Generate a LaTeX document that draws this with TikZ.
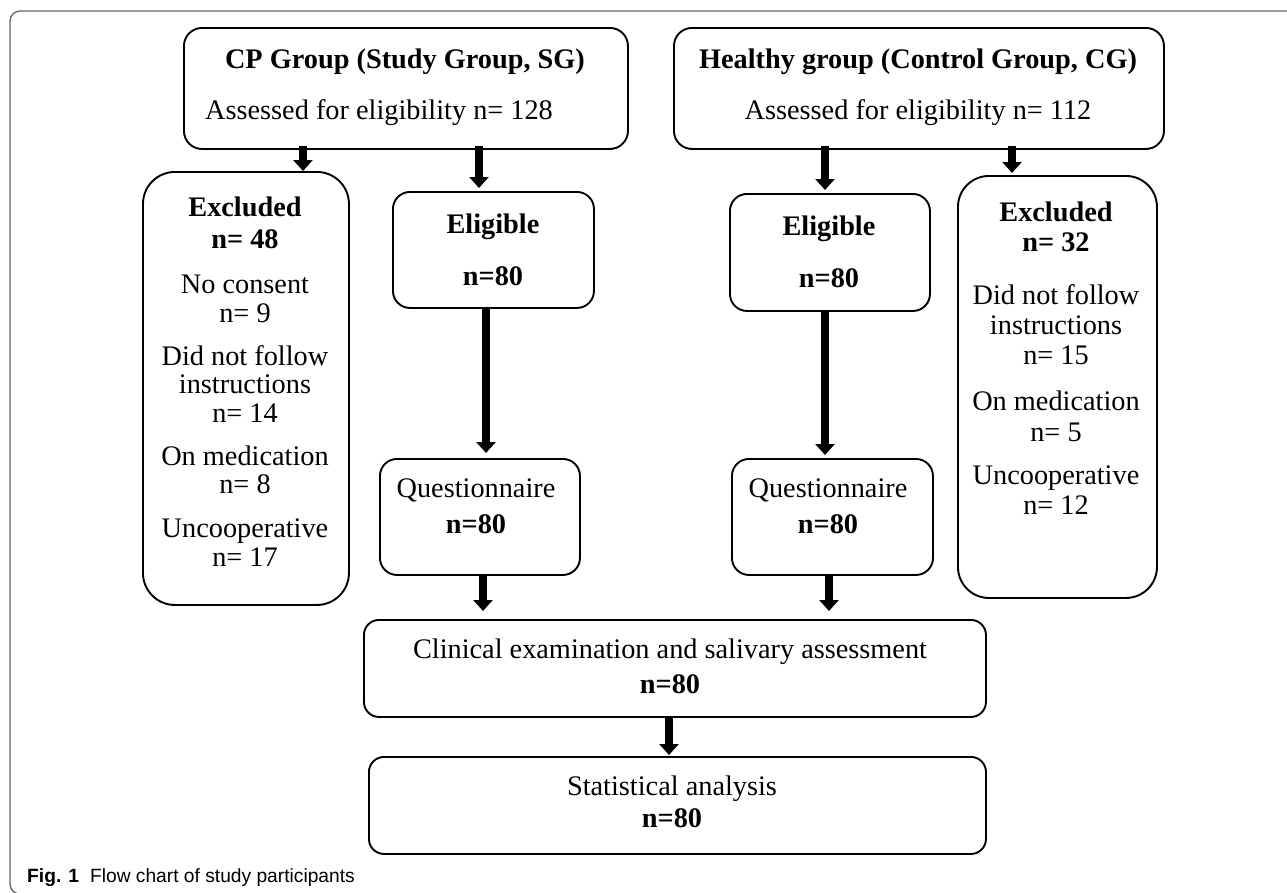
\documentclass[tikz,border=0pt]{standalone}
\usepackage{fontspec}
\setmainfont{Liberation Serif}
\setsansfont{Liberation Sans}
\usetikzlibrary{arrows.meta}
\definecolor{framegray}{RGB}{100,100,100}
\begin{document}
\begin{tikzpicture}[x=1pt,y=-1pt,
  box/.style={draw=black, line width=1.9pt, rounded corners=#1, inner sep=0pt, anchor=north west},
  box/.default=18pt,
  txt/.style={font=\fontsize{28.3pt}{28.5pt}\selectfont, inner sep=0pt, align=center},
  arr/.style={line width=8.5pt, -{Triangle[width=19pt,length=11pt]}},
  framestyle/.style={draw=framegray, line width=1.3pt, rounded corners=10pt}
]
\useasboundingbox (0,0) rectangle (1287,892);
\fill[white] (0,0) rectangle (1287,892);
% outer frame
\draw[framestyle] (1310,11) -- (10,11) -- (10,894) -- (1310,894);

% boxes
\node[box, minimum width=444pt, minimum height=121pt] (cp) at (183,27) {};
\node[box, minimum width=490pt, minimum height=121pt] (hg) at (673,27) {};
\node[box=32pt, minimum width=206pt, minimum height=433pt] (ex1) at (142,171) {};
\node[box=17pt, minimum width=201pt, minimum height=116pt] (el1) at (392,191) {};
\node[box=17pt, minimum width=200pt, minimum height=117pt] (el2) at (729,193) {};
\node[box=31pt, minimum width=199pt, minimum height=422pt] (ex2) at (957,175) {};
\node[box=17pt, minimum width=200pt, minimum height=116pt] (q1) at (379,458) {};
\node[box=17pt, minimum width=201pt, minimum height=116pt] (q2) at (731,458) {};
\node[box=15pt, minimum width=622pt, minimum height=97pt] (cl) at (363,619) {};
\node[box=15pt, minimum width=617pt, minimum height=97pt] (st) at (368,756) {};

% texts
\node[txt, anchor=base] (cpt1) at (405,68) {\textbf{CP Group (Study Group, SG)}};
\node[txt, anchor=base west] (cpt2) at (205,119) {Assessed for eligibility n= 128};
\node[txt, anchor=base] (hgt1) at (918,68) {\textbf{Healthy group (Control Group, CG)}};
\node[txt, anchor=base] (hgt2) at (918,119) {Assessed for eligibility n= 112};

\node[txt, anchor=north] (ex1t) at (245,197) {\textbf{Excluded}\\[3.5pt]\textbf{n= 48}\\[16.5pt]No consent\\n= 9\\[14.5pt]Did not follow\\instructions\\n= 14\\[14.5pt]On medication\\n= 8\\[15.5pt]Uncooperative\\n= 17};

\node[txt, anchor=north] (ex2t) at (1056,202) {\textbf{Excluded}\\[1.5pt]\textbf{n= 32}\\[24pt]Did not follow\\[2pt]instructions\\[1.5pt]n= 15\\[17pt]On medication\\[3pt]n= 5\\[14.5pt]Uncooperative\\[1.5pt]n= 12};

\node[txt, anchor=north] (el1t) at (493,214) {\textbf{Eligible}\\[23.5pt]\textbf{n=80}};
\node[txt, anchor=north] (el2t) at (829,216) {\textbf{Eligible}\\[23.5pt]\textbf{n=80}};
\node[txt, anchor=north] (q1t) at (476,479) {Questionnaire\\[7.5pt]\textbf{n=80}};
\node[txt, anchor=north] (q2t) at (828,479) {Questionnaire\\[7.5pt]\textbf{n=80}};
\node[txt, anchor=north] (clt) at (670,639) {Clinical examination and salivary assessment\\[6.5pt]\textbf{n=80}};
\node[txt, anchor=north] (stt) at (672,776) {Statistical analysis\\[3.5pt]\textbf{n=80}};

% caption
\node[anchor=base west, inner sep=0pt, font=\sffamily\fontsize{19.2pt}{23pt}\selectfont] (cap) at (27,882) {\textbf{Fig. 1}\hspace{11pt}Flow chart of study participants};

% arrow x positions
\coordinate (xa) at (303,0);
\coordinate (xb) at (479,0);
\coordinate (xc) at (486,0);
\coordinate (xd) at (825,0);
\coordinate (xe) at (1012,0);
\coordinate (xf) at (483,0);
\coordinate (xg) at (829,0);
\coordinate (xh) at (669,0);

% connectors
\draw[arr] ([yshift=4pt]cp.south -| xa) -- (ex1.north -| xa);
\draw[arr, shorten >=3pt] ([yshift=4pt]cp.south -| xb) -- (el1.north -| xb);
\draw[arr, shorten >=5pt] ([yshift=1pt]el1.south -| xc) -- (q1.north -| xc);
\draw[arr, shorten >=3pt] ([yshift=4pt]hg.south -| xd) -- (el2.north -| xd);
\draw[arr, shorten >=2pt] ([yshift=4pt]hg.south -| xe) -- (ex2.north -| xe);
\draw[arr, shorten >=3pt] ([yshift=1pt]el2.south -| xd) -- (q2.north -| xd);
\draw[arr, shorten >=8pt] ([yshift=1pt]q1.south -| xf) -- (cl.north -| xf);
\draw[arr, shorten >=8pt] ([yshift=1pt]q2.south -| xg) -- (cl.north -| xg);
\draw[arr, shorten >=1pt] ([yshift=1pt]cl.south -| xh) -- (st.north -| xh);
\end{tikzpicture}
\end{document}
